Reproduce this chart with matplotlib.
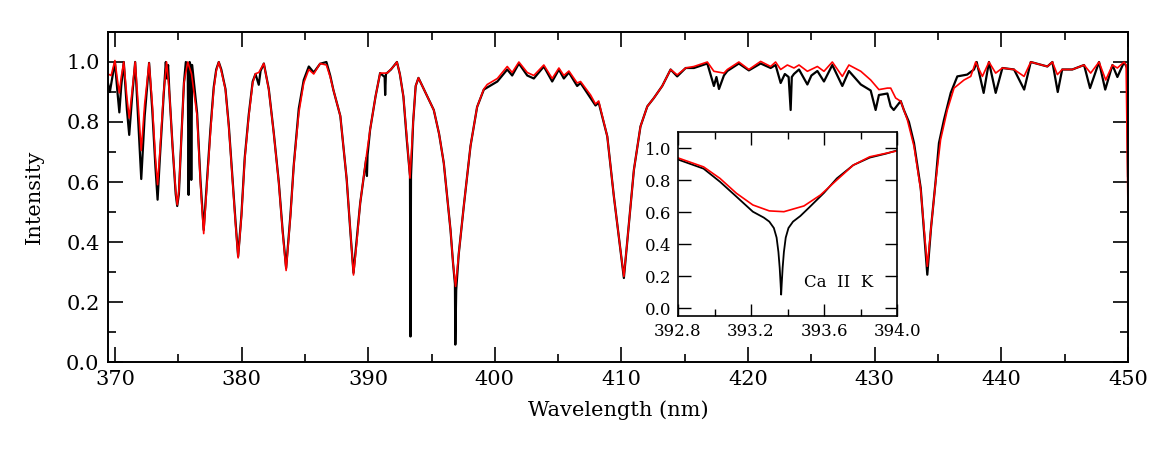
import numpy as np
import matplotlib
matplotlib.use("Agg")
import matplotlib.pyplot as plt
from matplotlib.ticker import MultipleLocator, FormatStrFormatter

# observed spectrum (black), main panel
obs_wl = [369.45, 369.6, 370.0, 370.2, 370.35, 370.5, 370.7, 370.95, 371.13,
          371.35, 371.6, 371.85, 372.08, 372.35, 372.7, 372.95, 373.2, 373.37,
          373.55, 373.85, 374.02, 374.1, 374.2, 374.3, 374.55, 374.8, 374.92,
          375.05, 375.25, 375.45, 375.6, 375.75, 375.82, 375.9, 375.97, 376.03,
          376.1, 376.49, 376.75, 377.01, 377.28, 377.54, 377.8, 378.0, 378.2,
          378.4, 378.73, 378.99, 379.26, 379.52, 379.73, 379.99, 380.25, 380.57,
          380.88, 381.1, 381.36, 381.5, 381.76, 382.15, 382.54, 382.94, 383.25,
          383.52, 383.86, 384.12, 384.52, 384.91, 385.31, 385.7, 386.2, 386.7,
          387.0, 387.25, 387.8, 388.3, 388.6, 388.84, 389.1, 389.37, 389.85,
          389.9, 389.95, 390.15, 390.58, 390.94, 391.3, 391.34, 391.4, 391.8,
          392.27, 392.5, 392.78, 393.05, 393.3, 393.34, 393.38, 393.55, 393.75,
          393.97, 394.5, 395.18, 395.6, 395.97, 396.5, 396.7, 396.85, 396.88,
          396.95, 397.15, 397.55, 398.08, 398.6, 399.13, 399.4, 400.2, 400.98,
          401.37, 401.9, 402.56, 403.08, 403.87, 404.53, 405.06, 405.45, 405.85,
          406.5, 406.77, 407.56, 407.95, 408.2, 408.88, 409.4, 409.9, 410.19,
          410.5, 410.98, 411.5, 412.04, 412.56, 413.22, 413.88, 414.4, 415.07,
          415.72, 416.78, 417.3, 417.5, 417.7, 418.09, 418.36, 419.27, 420.06,
          420.99, 421.78, 422.17, 422.57, 422.9, 423.2, 423.36, 423.45, 423.62,
          424.02, 424.68, 425.0, 425.47, 425.99, 426.65, 427.44, 427.96, 428.9,
          429.68, 430.07, 430.33, 431.0, 431.26, 431.5, 432.05, 432.3, 432.7,
          433.1, 433.63, 433.9, 434.15, 434.45, 434.8, 435.07, 435.47, 436.0,
          436.52, 437.3, 437.84, 438.05, 438.6, 439.02, 439.55, 440.08, 441.0,
          441.8, 442.32, 443.63, 444.03, 444.45, 444.8, 445.6, 446.53, 447.0,
          447.71, 448.2, 448.77, 449.16, 449.69, 449.93, 450.0]
obs_int = [0.93, 0.90, 1.0, 0.90, 0.832, 0.92, 1.0, 0.84, 0.757,
           0.88, 1.0, 0.80, 0.61, 0.82, 0.997, 0.84, 0.65, 0.541,
           0.68, 0.89, 1.0, 0.945, 0.99, 0.9, 0.72, 0.56, 0.52,
           0.56, 0.75, 0.93, 1.0, 0.99, 0.557, 1.0, 0.99, 0.607,
           0.99, 0.83, 0.61, 0.44, 0.61, 0.775, 0.915, 0.975, 1.0,
           0.975, 0.91, 0.79, 0.625, 0.47, 0.352, 0.49, 0.68, 0.825,
           0.935, 0.96, 0.924, 0.97, 0.995, 0.91, 0.765, 0.6, 0.435,
           0.313, 0.49, 0.655, 0.845, 0.94, 0.985, 0.965, 0.994, 1.0,
           0.955, 0.907, 0.82, 0.61, 0.43, 0.297, 0.41, 0.53, 0.68,
           0.62, 0.69, 0.774, 0.885, 0.963, 0.95, 0.89, 0.96, 0.975,
           1.0, 0.96, 0.885, 0.74, 0.62, 0.085, 0.62, 0.80, 0.92,
           0.947, 0.90, 0.84, 0.76, 0.663, 0.44, 0.33, 0.26, 0.058,
           0.24, 0.36, 0.52, 0.72, 0.85, 0.908, 0.915, 0.935, 0.975,
           0.955, 0.995, 0.955, 0.945, 0.985, 0.935, 0.975, 0.945, 0.965,
           0.92, 0.93, 0.88, 0.855, 0.865, 0.752, 0.552, 0.38, 0.28,
           0.42, 0.64, 0.785, 0.852, 0.88, 0.92, 0.975, 0.952, 0.98,
           0.98, 0.995, 0.92, 0.95, 0.91, 0.955, 0.97, 0.995, 0.972,
           0.995, 0.98, 0.99, 0.93, 0.96, 0.95, 0.84, 0.95, 0.96,
           0.975, 0.925, 0.955, 0.97, 0.935, 0.99, 0.92, 0.97, 0.925,
           0.905, 0.84, 0.89, 0.895, 0.852, 0.84, 0.87, 0.84, 0.80,
           0.73, 0.58, 0.43, 0.291, 0.45, 0.60, 0.73, 0.808, 0.897,
           0.952, 0.958, 0.975, 1.0, 0.897, 1.0, 0.897, 0.98, 0.975,
           0.908, 1.0, 0.985, 1.0, 0.90, 0.975, 0.975, 0.99, 0.913,
           1.0, 0.908, 0.99, 0.95, 1.0, 0.98, 0.62]

# model spectrum (red), main panel
mod_wl = [369.45, 369.7, 370.0, 370.2, 370.35, 370.5, 370.7, 370.95, 371.13,
          371.35, 371.6, 371.85, 372.08, 372.35, 372.7, 372.95, 373.2, 373.37,
          373.55, 373.85, 374.08, 374.3, 374.55, 374.8, 374.92, 375.05, 375.25,
          375.45, 375.75, 376.05, 376.49, 376.75, 377.01, 377.28, 377.54, 377.8,
          378.0, 378.2, 378.4, 378.73, 378.99, 379.26, 379.52, 379.73, 379.99,
          380.25, 380.57, 380.88, 381.1, 381.36, 381.76, 382.15, 382.54, 382.94,
          383.25, 383.52, 383.86, 384.12, 384.52, 384.91, 385.31, 385.7, 386.2,
          386.7, 387.0, 387.25, 387.8, 388.3, 388.6, 388.84, 389.1, 389.37,
          389.9, 390.15, 390.58, 390.94, 391.5, 392.0, 392.27, 392.5, 392.78,
          393.05, 393.3, 393.55, 393.75, 393.97, 394.5, 395.18, 395.6, 395.97,
          396.5, 396.7, 396.9, 397.15, 397.55, 398.08, 398.6, 399.13, 399.4,
          400.2, 400.98, 401.37, 401.9, 402.56, 403.08, 403.87, 404.53, 405.06,
          405.45, 405.85, 406.5, 406.77, 407.56, 407.95, 408.2, 408.88, 409.4,
          409.9, 410.19, 410.5, 410.98, 411.5, 412.04, 412.56, 413.22, 413.88,
          414.4, 415.07, 415.72, 416.78, 417.3, 418.09, 418.36, 419.27, 420.06,
          420.99, 421.78, 422.17, 422.57, 423.1, 423.62, 424.02, 424.68, 425.47,
          425.99, 426.65, 427.44, 427.96, 428.9, 429.68, 430.33, 431.0, 431.26,
          431.65, 432.05, 432.57, 433.1, 433.63, 433.9, 434.15, 434.45, 434.8,
          435.2, 435.73, 436.26, 437.05, 437.58, 437.97, 438.5, 439.02, 439.55,
          440.08, 441.0, 441.79, 442.32, 443.63, 444.03, 444.42, 444.8, 445.6,
          446.53, 447.05, 447.71, 448.24, 448.77, 449.16, 449.69, 449.85, 450.0]
mod_int = [0.96, 0.955, 1.005, 0.94, 0.897, 0.95, 1.0, 0.88, 0.813,
           0.9, 1.0, 0.85, 0.705, 0.86, 0.997, 0.86, 0.68, 0.591,
           0.7, 0.9, 1.0, 0.9, 0.72, 0.57, 0.524, 0.57, 0.75,
           0.93, 1.0, 0.96, 0.82, 0.597, 0.428, 0.597, 0.763, 0.908,
           0.97, 1.0, 0.97, 0.908, 0.785, 0.619, 0.463, 0.347, 0.485,
           0.674, 0.819, 0.93, 0.961, 0.965, 0.995, 0.908, 0.763, 0.597,
           0.43, 0.305, 0.485, 0.652, 0.83, 0.93, 0.975, 0.96, 0.995,
           0.99, 0.95, 0.907, 0.82, 0.61, 0.43, 0.29, 0.40, 0.53,
           0.70, 0.774, 0.885, 0.963, 0.963, 0.985, 1.0, 0.96, 0.885,
           0.75, 0.613, 0.80, 0.92, 0.947, 0.90, 0.84, 0.76, 0.663,
           0.44, 0.33, 0.252, 0.36, 0.52, 0.72, 0.85, 0.91, 0.925,
           0.945, 0.985, 0.965, 1.0, 0.965, 0.955, 0.99, 0.945, 0.98,
           0.955, 0.97, 0.93, 0.935, 0.89, 0.86, 0.87, 0.752, 0.552,
           0.38, 0.285, 0.42, 0.64, 0.785, 0.852, 0.88, 0.92, 0.975,
           0.957, 0.98, 0.985, 1.0, 0.969, 0.963, 0.975, 1.0, 0.975,
           1.002, 0.985, 1.0, 0.975, 0.99, 0.98, 0.99, 0.969, 0.985,
           0.969, 1.0, 0.952, 0.99, 0.969, 0.94, 0.908, 0.913, 0.913,
           0.88, 0.869, 0.808, 0.719, 0.574, 0.44, 0.319, 0.45, 0.597,
           0.741, 0.84, 0.913, 0.94, 0.952, 1.0, 0.952, 1.0, 0.963,
           0.98, 0.975, 0.952, 1.0, 0.985, 1.0, 0.958, 0.975, 0.975,
           0.99, 0.963, 1.0, 0.94, 0.99, 0.98, 1.0, 0.99, 0.5]

# inset: Ca II K line
k_obs_wl = [392.8, 392.94, 393.03, 393.12, 393.21, 393.27, 393.30, 393.325,
            393.34, 393.35, 393.357, 393.362, 393.365, 393.368, 393.373,
            393.38, 393.39, 393.405, 393.43, 393.47, 393.52, 393.60, 393.67,
            393.76, 393.85, 393.94, 394.0]
k_obs_int = [0.928, 0.871, 0.789, 0.696, 0.602, 0.565, 0.54, 0.50,
             0.44, 0.35, 0.25, 0.15, 0.084, 0.15, 0.25,
             0.35, 0.44, 0.50, 0.54, 0.575, 0.63, 0.72, 0.81,
             0.893, 0.94, 0.965, 0.985]
k_mod_wl = [392.8, 392.94, 393.03, 393.12, 393.21, 393.30, 393.38, 393.49,
            393.58, 393.67, 393.76, 393.85, 394.0]
k_mod_int = [0.938, 0.882, 0.81, 0.717, 0.644, 0.607, 0.602, 0.638,
             0.706, 0.80, 0.893, 0.945, 0.982]

plt.rcParams['font.family'] = ['DejaVu Serif']

fig = plt.figure(figsize=(11.67, 4.59), dpi=100)
ax = fig.add_axes([0.0925, 0.2113, 0.8741, 0.719])

ax.plot(obs_wl, obs_int, color='black', lw=1.6)
ax.plot(mod_wl, mod_int, color='red', lw=1.2)

ax.set_xlim(369.45, 450.0)
ax.set_ylim(0.0, 1.1)
ax.xaxis.set_major_locator(MultipleLocator(10))
ax.xaxis.set_minor_locator(MultipleLocator(5))
ax.yaxis.set_major_locator(MultipleLocator(0.2))
ax.yaxis.set_minor_locator(MultipleLocator(0.1))
ax.yaxis.set_major_formatter(FormatStrFormatter('%.1f'))
ax.tick_params(which='both', direction='in', top=True, right=True,
               labelsize=15, width=1.2)
ax.tick_params(which='major', length=11, pad=6)
ax.tick_params(which='minor', length=6)
for s in ax.spines.values():
    s.set_linewidth(1.4)
ax.set_xlabel('Wavelength (nm)', fontsize=15, labelpad=8)
ax.set_ylabel('Intensity', fontsize=15, labelpad=16)

# inset
axi = fig.add_axes([0.581, 0.3115, 0.1877, 0.4009])
axi.plot(k_obs_wl, k_obs_int, color='black', lw=1.3)
axi.plot(k_mod_wl, k_mod_int, color='red', lw=1.2)
axi.set_xlim(392.8, 394.0)
axi.set_ylim(-0.05, 1.1)
axi.xaxis.set_major_locator(MultipleLocator(0.4))
axi.xaxis.set_minor_locator(MultipleLocator(0.2))
axi.yaxis.set_major_locator(MultipleLocator(0.2))
axi.xaxis.set_major_formatter(FormatStrFormatter('%.1f'))
axi.yaxis.set_major_formatter(FormatStrFormatter('%.1f'))
axi.tick_params(which='both', direction='in', top=True, right=True,
                labelsize=12, width=1.0)
axi.tick_params(which='major', length=9, pad=5)
axi.tick_params(which='minor', length=5)
for s in axi.spines.values():
    s.set_linewidth(1.2)
axi.text(393.68, 0.16, 'Ca  II  K', fontsize=12, ha='center', va='center')

fig.savefig('out.png', dpi=100)
